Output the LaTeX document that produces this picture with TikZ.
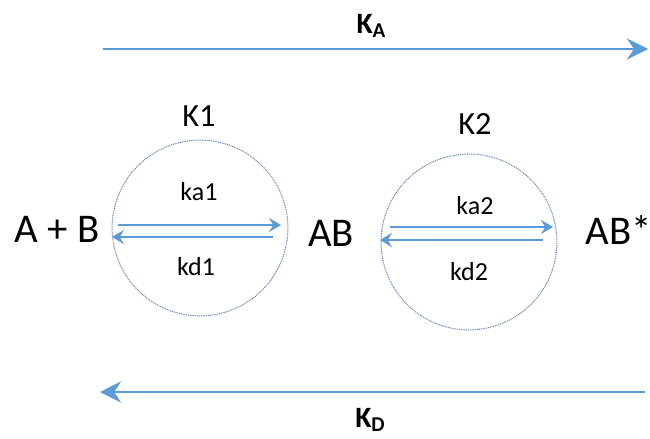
\documentclass[tikz,border=0pt]{standalone}
\usepackage{fontspec}
\setmainfont{Carlito}
\usepackage{xcolor}
\definecolor{flowblue}{RGB}{91,155,213}
\definecolor{ringgrey}{RGB}{105,135,175}
\usetikzlibrary{arrows.meta,calc}
\tikzset{>={Stealth[length=15pt,width=15pt,inset=5pt]},
    flux/.style={draw=flowblue, line width=1.4pt, ->},
    rate/.style={draw=flowblue, line width=1.1pt, -{Stealth[length=8.5pt,width=10pt,inset=3pt]}},
    ring/.style={draw=ringgrey, dash pattern=on 0.7pt off 0.6pt, line width=0.75pt, circle, minimum size=125pt, inner sep=0pt},
    species/.style={inner sep=0pt, font=\fontsize{29}{34}\selectfont},
    equil/.style={inner sep=0pt, font=\fontsize{23}{27}\selectfont},
    const/.style={inner sep=0pt, font=\fontsize{18.5}{22}\selectfont},
    overall/.style={inner sep=0pt, font=\bfseries\fontsize{21}{25}\selectfont}}

\begin{document}
\begin{tikzpicture}[x=0.025cm, y=-0.025cm]
    \useasboundingbox (0,0) rectangle (650,439);
    % species along the reaction
    \node[species] (ab0) at (57,229) {A + B};
    \node[species] (ab1) at (331,233) {AB};
    \node[species] (ab2) at (619,230) {AB*};
    % two equilibrium steps
    \node[ring] (c1) at (200,228) {};
    \node[ring] (c2) at (469,242) {};
    \node[equil] (k1) at (199,116) {K1};
    \node[equil] (k2) at (475,124) {K2};
    \node[const] (ka1) at (199,192) {ka1};
    \node[const] (kd1) at (196,267) {kd1};
    \node[const] (ka2) at (475,206) {ka2};
    \node[const] (kd2) at (469,272) {kd2};
    \draw[rate] ($(c1)+(-82,-3)$) -- ++(163,0);
    \draw[rate] ($(c1)+(73,9)$) -- ++(-161,0);
    \draw[rate] ($(c2)+(-79,-15)$) -- ++(163,0);
    \draw[rate] ($(c2)+(74,-2)$) -- ++(-163,0);
    % overall association / dissociation
    \coordinate (kaL) at (103,49);
    \coordinate (kaR) at (648,49);
    \coordinate (kdR) at (645,392);
    \coordinate (kdL) at (100,392);
    \draw[flux] (kaL) -- (kaR);
    \draw[flux] (kdR) -- (kdL);
    \node[overall] (KA) at (371,26) {K\raisebox{-0.3ex}{\fontsize{15}{17}\selectfont A}};
    \node[overall] (KD) at (370,420) {K\raisebox{-0.3ex}{\fontsize{15}{17}\selectfont D}};
\end{tikzpicture}
\end{document}
